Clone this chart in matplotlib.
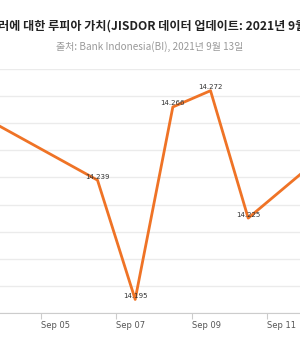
import matplotlib
matplotlib.use("Agg")
import matplotlib.pyplot as plt
import matplotlib.dates as mdates
import pandas as pd

# Data (JISDOR, IDR per USD)
dates = ["2021-09-03", "2021-09-06", "2021-09-07", "2021-09-08",
         "2021-09-09", "2021-09-10", "2021-09-13"]
values = [14.262, 14.239, 14.195, 14.266, 14.272, 14.225, 14.260]
labels = ["14.262", "14.239", "14.195", "14.266", "14.272", "14.225", "14.260"]

title = "미국 달러에 대한 루피아 가치(JISDOR 데이터 업데이트: 2021년 9월 13일)"
subtitle = "출처: Bank Indonesia(BI), 2021년 9월 13일"

plt.rcParams['font.family'] = ['Noto Sans CJK KR', 'DejaVu Sans']

# points sit at midday of each date
x = pd.to_datetime(dates) + pd.Timedelta(hours=12)

fig = plt.figure(figsize=(3, 3.5), dpi=100)
ax = fig.add_axes([0, 1 - 313 / 350, 1, (313 - 69) / 350])

ax.plot(x, values, color='#ef7326', lw=2, zorder=3)
for xi, v, t in zip(x, values, labels):
    ax.annotate(t, (xi, v), xytext=(0, 2.5), textcoords='offset points',
                ha='center', va='center', fontsize=5, color='#333333',
                family='DejaVu Sans', zorder=4)

ax.set_ylim(14.19, 14.28)
ax.set_yticks([14.19 + 0.01 * i for i in range(10)])
ax.yaxis.grid(True, color='#ebebeb', lw=1)
ax.set_axisbelow(True)

x0 = mdates.date2num(pd.Timestamp("2021-09-05"))
day_px = 37.67
ax.set_xlim(x0 - 41 / day_px, x0 + 259 / day_px)
ax.xaxis.set_major_locator(mdates.DayLocator(interval=2, bymonthday=range(1, 32, 2)))
ax.xaxis.set_major_formatter(mdates.DateFormatter('%b %d'))
ax.tick_params(axis='x', length=4, color='#cccccc', labelsize=6,
               labelcolor='#555555', pad=2)
for lab in ax.get_xticklabels():
    lab.set_horizontalalignment('left')
    lab.set_family('DejaVu Sans')
ax.tick_params(axis='y', left=False, labelleft=False)

for s in ['top', 'left', 'right']:
    ax.spines[s].set_visible(False)
ax.spines['bottom'].set_color('#cccccc')

fig.text(0.5, 1 - 26 / 350, title, ha='center', va='center',
         fontsize=8.7, fontweight='bold', color='#222222')
fig.text(0.5, 1 - 47 / 350, subtitle, ha='center', va='center',
         fontsize=7.2, color='#999999')

fig.savefig("out.png", dpi=100)
